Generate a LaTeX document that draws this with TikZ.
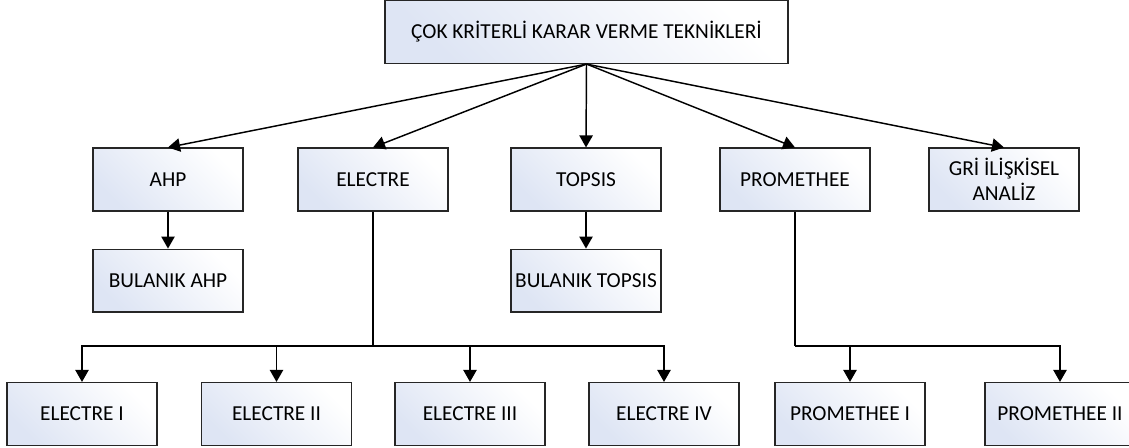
\documentclass[tikz,border=0pt]{standalone}
\usepackage{fontspec}
\setmainfont{Carlito}
\usetikzlibrary{positioning,arrows.meta}
\definecolor{boxtint}{RGB}{222,229,244}

\begin{document}
\begin{tikzpicture}[x=0.75pt, y=-0.75pt,
% Box styles
		method/.style={rectangle
							    , draw=black!85, line width=1.1pt
							    , left color=boxtint
							    , right color=white
							    , shading angle=135
							    , minimum width=112.5pt
							    , minimum height=47pt
							    , inner sep=0pt
							    , align=center
							    , font=\fontsize{16}{19}\selectfont},
		root/.style={method
							    , minimum width=302pt},
% Connector style
		link/.style={line width=1.1pt
							    , draw=black
							    , -{Triangle[width=10pt,length=9pt]}},
		node distance=27.75pt
	]
	\useasboundingbox (0,0) rectangle (1129,448);
%% Boxes
	\node [root] (top) at (586.5,32) {ÇOK KRİTERLİ KARAR VERME TEKNİKLERİ};

	\node [method] (ahp)     at (168,179.5)  {AHP};
	\node [method] (electre) at (373,179.5)  {ELECTRE};
	\node [method] (topsis)  at (586,179.5)  {TOPSIS};
	\node [method] (prom)    at (795,179.5)  {PROMETHEE};
	\node [method] (gri)     at (1004,179.5) {GRİ İLİŞKİSEL\\ANALİZ};

	\node [method] (bahp)    [below=of ahp]    {BULANIK AHP};
	\node [method] (btopsis) [below=of topsis] {BULANIK TOPSIS};

	\node [method] (e1) at (82,414)   {ELECTRE I};
	\node [method] (e2) at (276.5,414) {ELECTRE II};
	\node [method] (e3) at (470,414)  {ELECTRE III};
	\node [method] (e4) at (664,414)  {ELECTRE IV};
	\node [method] (p1) at (850,414)  {PROMETHEE I};
	\node [method] (p2) at (1060,414) {PROMETHEE II};

%% Edges
	\foreach \m in {ahp,electre,topsis,prom,gri}
		\draw [link] (top.south) -- (\m.north);

	\draw [link] (ahp) -- (bahp);
	\draw [link] (topsis) -- (btopsis);

	\coordinate (ebus) at (electre.south |- 0,346);
	\coordinate (pbus) at (prom.south |- 0,346);

	\draw [line width=1.1pt] (electre.south) -- (ebus);
	\foreach \e in {e1,e2,e3,e4}
		\draw [link] (ebus) -| (\e.north);

	\draw [line width=1.1pt] (prom.south) -- (pbus);
	\foreach \p in {p1,p2}
		\draw [link] (pbus) -| (\p.north);
\end{tikzpicture}
\end{document}
